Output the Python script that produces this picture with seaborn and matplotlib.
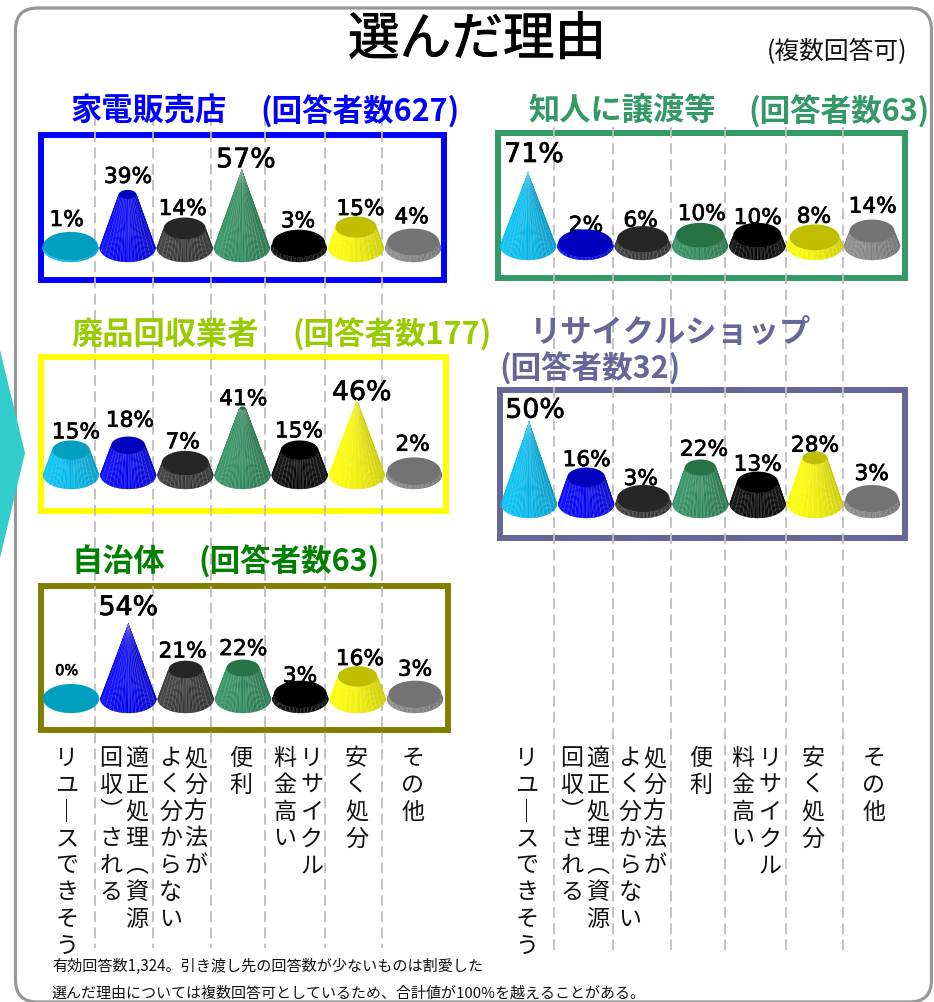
import numpy as np
import pandas as pd
import matplotlib
matplotlib.use("Agg")
import matplotlib.pyplot as plt
from matplotlib.collections import PolyCollection, LineCollection
from matplotlib.patches import FancyBboxPatch, Polygon, Rectangle
import matplotlib.patheffects as pe
import seaborn as sns

sns.set_theme(style="white")
JP = ["Noto Sans CJK JP", "DejaVu Sans"]
plt.rcParams["font.family"] = JP

# ---- survey data -------------------------------------------------------
reasons = ["リユースできそう", "適正処理(資源回収)される", "処分方法がよく分からない", "便利",
           "リサイクル料金高い", "安く処分", "その他"]
appliance_store = [1, 39, 14, 57, 3, 15, 4]
acquaintance = [71, 2, 6, 10, 10, 8, 14]
scrap_collector = [15, 18, 7, 41, 15, 46, 2]
recycle_shop = [50, 16, 3, 22, 13, 28, 3]
municipality = [0, 54, 21, 22, 3, 16, 3]

# ---- colours per reason ------------------------------------------------
side_colors = ["#00C0F6", "#0000FF", "#383838", "#2E8F5E", "#060606", "#FFFF00", "#888888"]
top_colors = ["#009FBF", "#0000BF", "#262626", "#267346", "#000000", "#BFBF00", "#737373"]

# ---- page layout, in pixels from the top-left corner -------------------
W, H = 934, 1002
SEMI_MINOR = 14.5

panels = [
    dict(values=appliance_store, name="家電販売店", count="(回答者数627)", color="#0000FF", box="#0000FF",
         name_xy=(71, 112), count_xy=(260, 112), rect=(38, 132, 447, 283),
         first=70.5, last=413.1, base=247.5, apex=170,
         dx=[-3.8, 0.4, -2, 4, -0.9, 4.5, -1.4], gap=[5.9, 7, 2.6, 2.7, 2.4, 1.4, 5.3]),
    dict(values=acquaintance, name="知人に譲渡等", count="(回答者数63)", color="#339966", box="#339966",
         name_xy=(528, 112), count_xy=(748, 112), rect=(495, 130, 908, 281),
         first=528, last=872, base=245.5, apex=173,
         dx=[6, 0.7, -2, 1.7, 0.4, -0.7, 0.7], gap=[11, -2.3, -0.6, 2.8, -1.2, 1.7, 6.9]),
    dict(values=scrap_collector, name="廃品回収業者", count="(回答者数177)", color="#99CC00", box="#FFFF00",
         name_xy=(71, 335), count_xy=(292, 335), rect=(38, 354, 449, 514),
         first=71, last=414, base=474.5, apex=400,
         dx=[5, 1.8, -2.6, 0.8, -0.7, 4.9, -1.3], gap=[2.1, 9.8, 2.6, 1.4, 3.1, 0, 6.7]),
    dict(values=recycle_shop, name="リサイクルショップ", count="(回答者数32)", color="#666699", box="#666699",
         name_xy=(530, 333), count_xy=(499, 369), rect=(497, 387, 908, 541),
         first=529, last=872, base=503.5, apex=422,
         dx=[6, 0.5, -2.6, 3.5, 0, 0.2, -0.3], gap=[4.3, 1.5, 0, 3.8, 0.9, -0.2, 5]),
    dict(values=municipality, name="自治体", count="(回答者数63)", color="#008000", box="#808000",
         name_xy=(72, 562), count_xy=(198, 562), rect=(38, 583, 451, 733),
         first=71, last=415, base=698.5, apex=624,
         dx=[-4.3, 0, -3, 0.3, -0.3, 2.3, 0], gap=[9, 9, 3.1, 4.5, -1.6, 1.2, 5]),
]

left_rules = [94.5, 153, 211, 265, 325, 382]
right_rules = [554, 613, 671, 725, 785.5, 843]

# each axis label is (x centre, text); a label is stacked one glyph per line
left_columns = [(66.7, "リユ｜スできそう"), (111, "回収\ufe36される"), (137, "適正処理\ufe35資源"),
                (170.7, "よく分からない"), (195.7, "処分方法が"), (240.7, "便利"),
                (285, "料金高い"), (311.7, "リサイクル"), (356.7, "安く処分"), (412.7, "その他")]
right_columns = [(526.7, "リユ｜スできそう"), (572, "回収\ufe36される"), (598, "適正処理\ufe35資源"),
                 (630, "よく分からない"), (655, "処分方法が"), (700.7, "便利"),
                 (743, "料金高い"), (770, "リサイクル"), (813, "安く処分"), (874, "その他")]


def px_fig(x, y):
    return x / W, 1 - y / H


def shade(color, factor):
    rgb = np.array(matplotlib.colors.to_rgb(color)) * factor
    return tuple(np.clip(rgb, 0, 1))


def draw_cone(ax, cx, half, value, vmax, ppu, side, top):
    """Truncated cone rising from 0 to value; the cone closes at the panel's largest value."""
    ratio = 1 - value / vmax
    ry = SEMI_MINOR / ppu
    theta = np.linspace(np.pi, 2 * np.pi, 61)
    bx, by = cx + half * np.cos(theta), ry * np.sin(theta)
    tx, ty = cx + half * ratio * np.cos(theta), value + ry * ratio * np.sin(theta)

    quads, faces = [], []
    for i in range(len(theta) - 1):
        quads.append([(bx[i], by[i]), (bx[i + 1], by[i + 1]), (tx[i + 1], ty[i + 1]), (tx[i], ty[i])])
        pos = (np.cos(theta[i]) + 1) / 2
        faces.append(shade(side, 1.0 - 0.20 * pos ** 1.5 + (0.04 if i % 4 == 0 else 0)))
    ax.add_collection(PolyCollection(quads, facecolors=faces, edgecolors=faces, linewidths=0.2,
                                     clip_on=False, zorder=4), autolim=False)

    light = tuple(np.array(matplotlib.colors.to_rgb(side)) * 0.45 + 0.55 * 0.85)
    seg = []
    for u in np.linspace(-0.95, 0.95, 15):
        th = np.arccos(u)
        seg.append([(cx + half * u, -ry * np.sin(th)),
                    (cx + half * ratio * u, value - ry * ratio * np.sin(th))])
    ax.add_collection(LineCollection(seg, colors=[light], linewidths=0.4, alpha=0.6,
                                     clip_on=False, zorder=5), autolim=False)

    full = np.linspace(0, 2 * np.pi, 90)
    if ratio > 0:
        ax.fill(cx + half * ratio * np.cos(full), value + ry * ratio * np.sin(full),
                color=top, lw=0, clip_on=False, zorder=6)
    return value + ry * ratio


fig = plt.figure(figsize=(W / 100, H / 100), dpi=100, facecolor="white")

# page layer: frame, arrow, panel boxes, dashed guides and all free text
page = fig.add_axes([0, 0, 1, 1], zorder=0)
page.set_xlim(0, W)
page.set_ylim(H, 0)
page.axis("off")

page.add_patch(Polygon([(0, 350), (25, 453), (0, 558)], closed=True, fc="#33CCCC", ec="none", clip_on=False))
page.add_patch(FancyBboxPatch((15.5, 8), 916, 994, boxstyle="round,pad=0,rounding_size=22",
                              fc="white", ec="#979797", lw=2.3, clip_on=True, zorder=0.5))

for spec in panels:
    x0, y0, x1, y1 = spec["rect"]
    page.add_patch(Rectangle((x0 + 3, y0 + 3), x1 - x0 - 6, y1 - y0 - 6, fc="none", ec=spec["box"],
                             lw=4.3, zorder=1, joinstyle="miter"))

for xs, start, end in ((left_rules, 115, 948), (right_rules, 127, 950)):
    page.vlines(xs, start, end, colors="#BEBEBE", linewidths=1.3, linestyles=(0, (6, 3)), zorder=2)

page.text(477, 40, "選んだ理由", fontsize=37.2, ha="center", va="center", color="black", zorder=3,
          path_effects=[pe.withStroke(linewidth=0.6, foreground="black")])
page.text(837, 52, "(複数回答可)", fontsize=17.8, ha="center", va="center", color="#111111", zorder=3)

for spec in panels:
    page.text(*spec["name_xy"], spec["name"], fontsize=22.5, fontweight="bold", color=spec["color"],
              ha="left", va="center", zorder=3)
    page.text(*spec["count_xy"], spec["count"], fontsize=22, fontweight="bold", color=spec["color"],
              ha="left", va="center", zorder=3)

for cx, label in left_columns + right_columns:
    page.text(cx, 747, "\n".join(label), fontsize=16.6, ha="center", va="top", ma="center",
              linespacing=1.21, color="#111111", zorder=3)

page.text(52, 966, "有効回答数1,324。引き渡し先の回答数が少ないものは割愛した", fontsize=10.9, ha="left",
          va="center", color="#111111", zorder=3)
page.text(52, 993, "選んだ理由については複数回答可としているため、合計値が100%を越えることがある。", fontsize=10.8,
          ha="left", va="center", color="#111111", zorder=3)

# chart layer: one seaborn bar axis per panel, with each bar redrawn as a cone
for spec in panels:
    values = spec["values"]
    vmax = max(values)
    step = (spec["last"] - spec["first"]) / 6
    left, bottom = px_fig(spec["first"] - step / 2, spec["base"])
    width = 7 * step / W
    height = (spec["base"] - spec["apex"]) / H
    ax = fig.add_axes([left, bottom, width, height], zorder=1)
    ax.patch.set_alpha(0)

    frame = pd.DataFrame({"reason": reasons, "share": values})
    sns.barplot(data=frame, x="reason", y="share", hue="reason", palette=side_colors, width=0.98,
                legend=False, ax=ax)
    ax.set_xlim(-0.5, 6.5)
    ax.set_ylim(0, vmax)
    ax.axis("off")
    ppu = (spec["base"] - spec["apex"]) / vmax

    bars = sorted(ax.patches, key=lambda b: b.get_x())
    for i, bar in enumerate(bars):
        bar.set_visible(False)
        cx = bar.get_x() + bar.get_width() / 2
        value = bar.get_height()
        peak = draw_cone(ax, cx, bar.get_width() / 2, value, vmax, ppu, side_colors[i], top_colors[i])
        size = 19.3 if value == vmax else (10.5 if value == 0 else 15.6)
        ax.annotate(f"{value:.0f}%", xy=(cx, peak),
                    xytext=(spec["dx"][i] * 0.72, spec["gap"][i] * 0.72), textcoords="offset points",
                    ha="center", va="baseline", fontsize=size, fontfamily="DejaVu Sans", color="black",
                    annotation_clip=False, zorder=3,
                    path_effects=[pe.withStroke(linewidth=0.5, foreground="black")])

fig.savefig("out.png", dpi=100, facecolor="white")
